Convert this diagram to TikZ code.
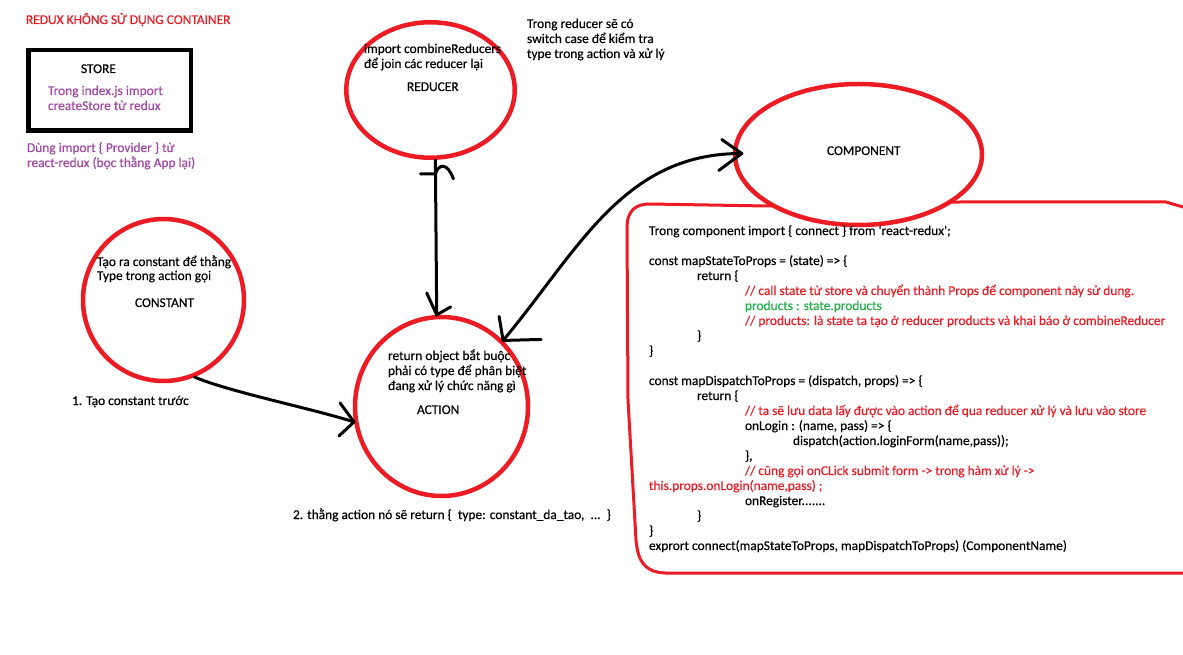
\documentclass[tikz,border=0pt]{standalone}
\usepackage{fontspec}
\newfontfamily\carl{Carlito}[FakeBold=0.4]
\usetikzlibrary{shapes.geometric,calc}
\definecolor{pred}{HTML}{ED1C24}
\definecolor{pgreen}{HTML}{22B14C}
\definecolor{ppurple}{HTML}{A349A4}
\begin{document}
\begin{tikzpicture}[x=1pt,y=-1pt,
  txt/.style={font=\carl\fontsize{13.4}{15}\selectfont, anchor=base west, inner sep=0pt, outer sep=0pt, text=black},
  redtxt/.style={txt, text=pred},
  greentxt/.style={txt, text=pgreen},
  purptxt/.style={txt, text=ppurple},
  bubble/.style={ellipse, draw=pred, line width=4.5pt, inner sep=0pt},
  wire/.style={draw=black, line width=3pt, line cap=round, line join=round},
  codebox/.style={draw=pred, line width=3pt, line cap=round, line join=round}]
\useasboundingbox (0,0) rectangle (1183,655);
\fill[white] (0,0) rectangle (1183,655);

% store box
\node[draw=black, line width=4.5pt, minimum width=162.5pt, minimum height=80.5pt, inner sep=0pt] (store) at (109.5,90.5) {};

% code box
\draw[codebox] (1183,207) -- (1166,202) -- (960,202) -- (767,206) -- (650,204)
  .. controls (636,204) and (627,210) .. (627,228) -- (628,400) -- (636,540)
  .. controls (638,562) and (645,572) .. (665,573) -- (1183,573);

% bubbles
\node[bubble, minimum width=168.5pt, minimum height=135.5pt] (reducer) at (430.5,90) {};
\node[bubble, fill=white, minimum width=247pt, minimum height=141pt] (component) at (858.5,154.5) {};
\node[bubble, minimum width=161pt, minimum height=162pt] (constant) at (163.5,300) {};
\node[bubble, minimum width=173pt, minimum height=179pt] (action) at (441.5,406.5) {};

% connectors
\draw[wire] (constant.-68) .. controls (230,392) and (310,408) .. (action.190);
\draw[wire] (action.190) ++(-14,-19) -- (action.190) -- ++(-15,14);

\draw[wire] (reducer.-86) -- (action.93);
\draw[wire] (action.93) ++(-10,-22) -- (action.93) -- ++(14,-8);
\coordinate (hk) at ($(reducer.-86)+(0,14)$);
\draw[wire] (hk) ++(-15,0) -- (hk) .. controls ($(hk)+(3,-10)$) and ($(hk)+(12,-12)$) .. ($(hk)+(18,5)$);

\coordinate (ctip) at ($(component.180)+(9,-1)$);
\draw[wire] (action.47) .. controls (578,251) and (623,153) .. (ctip);
\draw[wire] (action.47) ++(-4,-24) -- (action.47) -- ++(38,-1);
\draw[wire] (ctip) ++(-20,-14) -- (ctip) -- ++(-23,17);

% texts left
\node[redtxt] (title) at (26,24) {REDUX KHÔNG SỬ DỤNG CONTAINER};
\node[txt] (storelbl) at (81,73) {STORE};
\node[purptxt] (store1) at (48,95) {Trong index.js import};
\node[purptxt] (store2) at (48,110) {createStore từ redux};
\node[purptxt] (prov1) at (27,152) {Dùng import \{ Provider \} từ};
\node[purptxt] (prov2) at (27,167) {react-redux (bọc thằng App lại)};

% reducer texts
\node[txt] (red1) at (364,53) {import combineReducers};
\node[txt] (red2) at (364,68) {để join các reducer lại};
\node[txt] (redlbl) at (407,91) {REDUCER};
\node[txt] (rn1) at (527,28) {Trong reducer sẽ có};
\node[txt] (rn2) at (527,43) {switch case để kiểm tra};
\node[txt] (rn3) at (527,58) {type trong action và xử lý};

% constant texts
\node[txt] (con1) at (97,266) {Tạo ra constant để thằng};
\node[txt] (con2) at (97,280) {Type trong action gọi};
\node[txt] (conlbl) at (135,307) {CONSTANT};
\node[txt] (step1) at (72,405) {1. Tạo constant trước};

% action texts
\node[txt] (act1) at (388,360) {return object bắt buộc};
\node[txt] (act2) at (388,375) {phải có type để phân biệt};
\node[txt] (act3) at (388,390) {đang xử lý chức năng gì};
\node[txt] (actlbl) at (417,414) {ACTION};
\node[txt] (step2) at (293,519) {2. thằng action nó sẽ return \{\ \ type: constant\_da\_tao,\ \ ...\ \ \}};

% component
\node[txt] (complbl) at (827,155) {COMPONENT};

% code lines
\node[txt] (c01) at (649,235) {Trong component import \{ connect \} from 'react-redux';};
\node[txt] (c02) at (649,265) {const mapStateToProps = (state) => \{};
\node[txt] (c03) at (697,280) {return \{};
\node[redtxt] (c04) at (745,295) {// call state từ store và chuyển thành Props để component này sử dung.};
\node[greentxt] (c05) at (745,310) {products : state.products};
\node[redtxt] (c06) at (745,325) {// products: là state ta tạo ở reducer products và khai báo ở combineReducer};
\node[txt] (c07) at (697,340) {\}};
\node[txt] (c08) at (649,355) {\}};
\node[txt] (c09) at (649,385) {const mapDispatchToProps = (dispatch, props) => \{};
\node[txt] (c10) at (697,400) {return \{};
\node[redtxt] (c11) at (745,415) {// ta sẽ lưu data lấy được vào action để qua reducer xử lý và lưu vào store};
\node[txt] (c12) at (745,430) {onLogin : (name, pass) => \{};
\node[txt] (c13) at (793,445) {dispatch(action.loginForm(name,pass));};
\node[txt] (c14) at (745,460) {\},};
\node[redtxt] (c15) at (745,475) {// cũng gọi onCLick submit form -> trong hàm xử lý ->};
\node[redtxt] (c16) at (649,490) {this.props.onLogin(name,pass) ;};
\node[txt] (c17) at (745,505) {onRegister.......};
\node[txt] (c18) at (697,520) {\}};
\node[txt] (c19) at (649,535) {\}};
\node[txt] (c20) at (649,550) {exprort connect(mapStateToProps, mapDispatchToProps) (ComponentName)};
\end{tikzpicture}
\end{document}
